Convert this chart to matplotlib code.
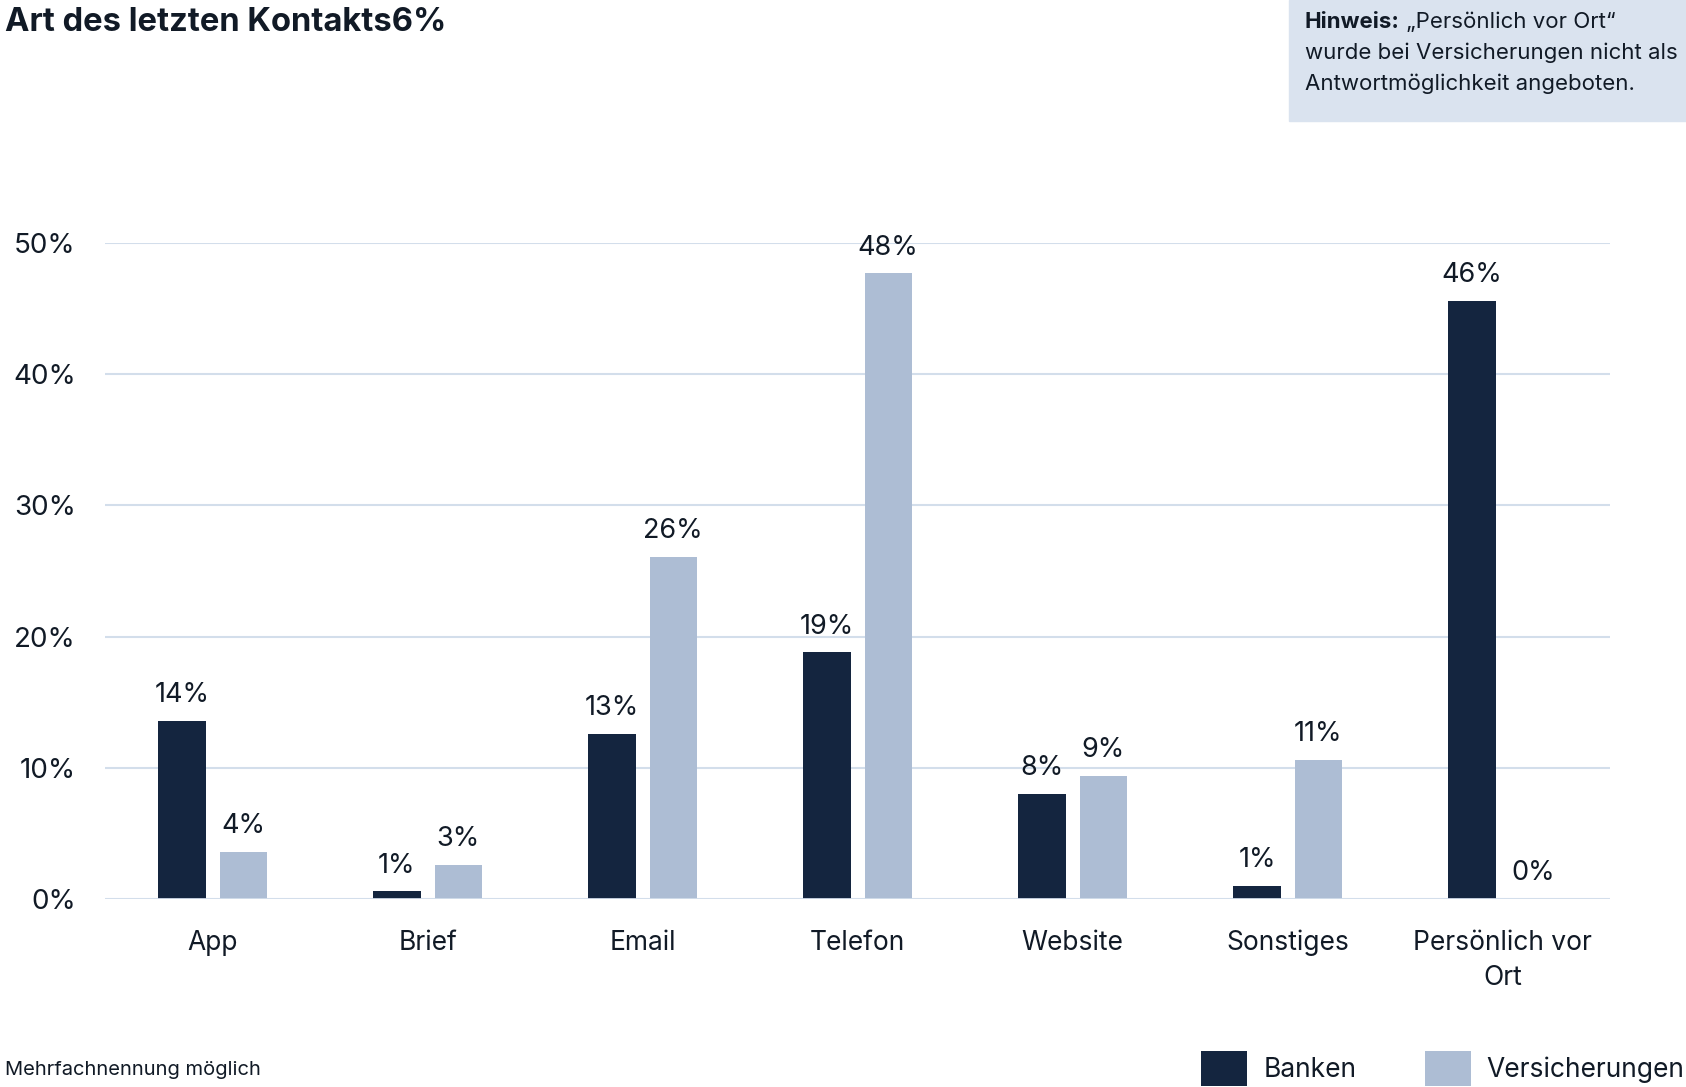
import numpy as np
import matplotlib.pyplot as plt

categories = ["App", "Brief", "Email", "Telefon", "Website", "Sonstiges", "Persönlich vor\nOrt"]
banken = [13.6, 0.6, 12.6, 18.8, 8.0, 1.0, 45.6]
versicherungen = [3.6, 2.6, 26.1, 47.7, 9.4, 10.6, 0.0]
yticks = [0, 10, 20, 30, 40, 50]

c_bank = "#14253f"
c_vers = "#adbdd4"
c_grid = "#d3deeb"
c_text = "#111a26"

plt.rcParams["font.family"] = ["Inter", "DejaVu Sans"]

fig = plt.figure(figsize=(16.86, 10.87), dpi=100)
ax = fig.add_axes([0.0623, 0.173, 0.8927, 0.6035])

x = np.arange(len(categories))
w = 0.22
off = 0.1425
b1 = ax.bar(x - off, banken, w, color=c_bank, label="Banken", zorder=3)
b2 = ax.bar(x + off, versicherungen, w, color=c_vers, label="Versicherungen", zorder=3)

for bars, vals in ((b1, banken), (b2, versicherungen)):
    ax.bar_label(bars, labels=[f"{v:.0f}%" for v in vals], padding=9,
                 fontsize=19.5, color=c_text, clip_on=False)

ax.set_xlim(-0.5, len(categories) - 0.5)
ax.set_ylim(0, 50)
ax.set_yticks(yticks)
ax.set_yticklabels([f"{t}%" for t in yticks])
ax.set_xticks(x)
ax.set_xticklabels(categories, linespacing=1.45)
ax.tick_params(axis="y", length=0, pad=21, labelsize=20, labelcolor=c_text)
ax.tick_params(axis="x", length=0, pad=22, labelsize=19, labelcolor=c_text)
ax.yaxis.grid(True, color=c_grid, linewidth=1.5, zorder=0)
ax.set_axisbelow(True)
for s in ax.spines.values():
    s.set_visible(False)
ax.axhline(0, color=c_grid, linewidth=2, zorder=4)

fig.text(0.003, 0.979, "Art des letzten Kontakts6%", fontsize=23.6, fontweight="bold",
         color=c_text, va="center", ha="left")

# Hinweis box
box = plt.Rectangle((1289 / 1686, 1 - 121 / 1087), 397 / 1686, 121 / 1087,
                    transform=fig.transFigure, color="#dae3ef", zorder=0)
fig.patches.append(box)
nx = 1305 / 1686
t1 = fig.text(nx, 1 - 21.5 / 1087, "Hinweis:", fontsize=16, fontweight="bold",
              color=c_text, va="center", ha="left")
fig.canvas.draw()
bb = t1.get_window_extent().transformed(fig.transFigure.inverted())
fig.text(bb.x1, 1 - 21.5 / 1087, " „Persönlich vor Ort“", fontsize=16, color=c_text,
         va="center", ha="left")
fig.text(nx, 1 - 52.7 / 1087, "wurde bei Versicherungen nicht als", fontsize=16,
         color=c_text, va="center", ha="left")
fig.text(nx, 1 - 83.9 / 1087, "Antwortmöglichkeit angeboten.", fontsize=16,
         color=c_text, va="center", ha="left")

fig.text(0.003, 1 - 1070 / 1087, "Mehrfachnennung möglich", fontsize=14.5,
         color=c_text, va="center", ha="left")

fig.legend(handles=[b1, b2], loc="lower right", bbox_to_anchor=(1.0, 0.0), ncol=2,
           frameon=False, fontsize=19, handlelength=1.75, handleheight=1.65,
           handletextpad=0.6, columnspacing=2.6, labelcolor=c_text,
           borderaxespad=0, borderpad=0.05)

fig.savefig("out.png", dpi=100)
